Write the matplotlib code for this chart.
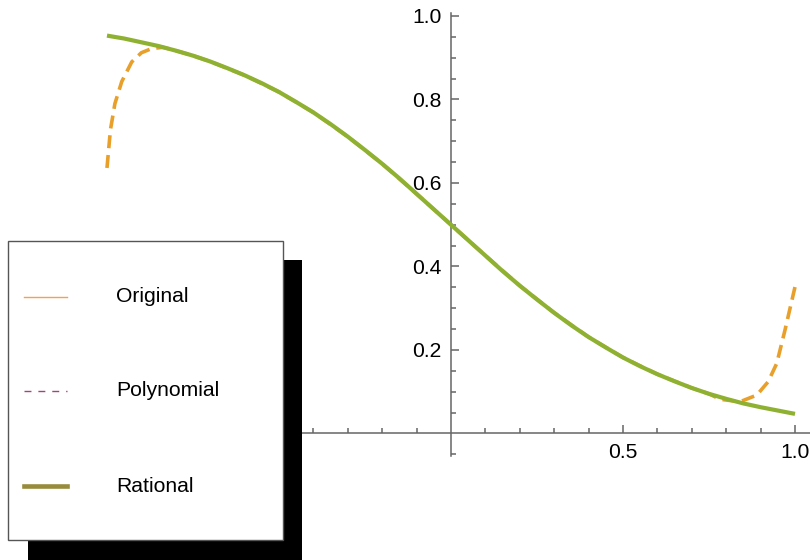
import numpy as np
import matplotlib
matplotlib.use('Agg')
import matplotlib.pyplot as plt
from matplotlib.patches import Rectangle
from matplotlib.lines import Line2D

plt.rcParams['font.family'] = ['Liberation Sans', 'DejaVu Sans']

# rational fit (green)
x_rat = [-1.0, -0.95, -0.9, -0.85, -0.8, -0.75, -0.7, -0.65, -0.6, -0.55, -0.5,
         -0.45, -0.4, -0.35, -0.3, -0.25, -0.2, -0.15, -0.1, -0.05, 0.0,
         0.05, 0.1, 0.15, 0.2, 0.25, 0.3, 0.35, 0.4, 0.45, 0.5,
         0.55, 0.6, 0.65, 0.7, 0.75, 0.8, 0.85, 0.9, 0.95, 1.0]
y_rat = [0.953, 0.946, 0.937, 0.928, 0.917, 0.905, 0.891, 0.875, 0.858, 0.839, 0.818,
         0.794, 0.769, 0.741, 0.711, 0.679, 0.646, 0.611, 0.574, 0.537, 0.500,
         0.463, 0.426, 0.389, 0.354, 0.321, 0.289, 0.259, 0.231, 0.206, 0.182,
         0.161, 0.142, 0.125, 0.109, 0.095, 0.083, 0.072, 0.063, 0.055, 0.047]

# polynomial fit (orange dashed)
x_poly = [-1.0, -0.99, -0.977, -0.957, -0.928, -0.9, -0.87, -0.837, -0.8, -0.75,
          -0.7, -0.6, -0.5, -0.4, -0.3, -0.2, -0.1, 0.0, 0.1, 0.2, 0.3, 0.4, 0.5,
          0.6, 0.7, 0.75, 0.782, 0.84, 0.889, 0.922, 0.947, 0.971, 1.0]
y_poly = [0.636, 0.727, 0.790, 0.843, 0.890, 0.912, 0.922, 0.925, 0.917, 0.905,
          0.891, 0.858, 0.818, 0.769, 0.711, 0.646, 0.574, 0.500, 0.426, 0.354,
          0.289, 0.231, 0.182, 0.142, 0.109, 0.095, 0.082, 0.076, 0.092, 0.124,
          0.168, 0.248, 0.351]

legend_labels = ['Original', 'Polynomial', 'Rational']

fig = plt.figure(figsize=(8.1, 5.6), dpi=100)
ax = fig.add_axes([0, 0, 1, 1])
ax.set_xlim(-1.311, 1.0436)
ax.set_ylim(-0.303, 1.0383)

ax.plot(x_poly, y_poly, color='#E8A02A', lw=2.6, dashes=(3.6, 1.9), zorder=2)
ax.plot(x_rat, y_rat, color='#8FB132', lw=3.0, zorder=3, solid_capstyle='butt')

# axes through the origin, Mathematica style
for s in ['top', 'right']:
    ax.spines[s].set_visible(False)
ax.spines['left'].set_position(('data', 0))
ax.spines['bottom'].set_position(('data', 0))
ax.spines['left'].set_bounds(-0.055, 1.007)
ax.spines['bottom'].set_bounds(-1.0, 1.05)
for s in ['left', 'bottom']:
    ax.spines[s].set_color('#666666')
    ax.spines[s].set_linewidth(1.1)

ax.set_xticks([-1.0, -0.5, 0.5, 1.0])
ax.set_xticklabels(['-1.0', '-0.5', '0.5', '1.0'])
ax.set_xticks([v / 10 for v in range(-9, 11) if v % 5 != 0], minor=True)
ax.set_yticks([0.2, 0.4, 0.6, 0.8, 1.0])
ax.set_yticklabels(['0.2', '0.4', '0.6', '0.8', '1.0'])
ax.set_yticks([v / 20 for v in range(-1, 21) if v % 4 != 0], minor=True)
ax.tick_params(which='both', direction='in', color='#666666', labelsize=15.2, width=1.1)
ax.tick_params(which='major', length=6)
ax.tick_params(which='minor', length=3.8)
ax.tick_params(axis='x', pad=7)
ax.tick_params(axis='y', pad=7)

# legend with hard black shadow
W, H = 810, 560
def fr(px, py, w, h):
    return (px / W, 1 - (py + h) / H)

fig.add_artist(Rectangle(fr(28, 260, 274, 300), 274 / W, 300 / H,
                         transform=fig.transFigure, facecolor='black',
                         edgecolor='none', zorder=10))
fig.add_artist(Rectangle(fr(8, 241, 275, 299), 275 / W, 299 / H,
                         transform=fig.transFigure, facecolor='white',
                         edgecolor='#555555', lw=1.0, zorder=11))

styles = [dict(color='#F5A050', lw=1.0),
          dict(color='#A0457A', lw=1.0, dashes=(5, 5)),
          dict(color='#978C3B', lw=3.3)]
rows = [297, 391, 486]
for lab, st, py in zip(legend_labels, styles, rows):
    yy = 1 - py / H
    fig.add_artist(Line2D([24 / W, 67 / W], [yy, yy], transform=fig.transFigure,
                          zorder=12, **st))
    fig.text(116 / W, yy, lab, fontsize=15.2, va='center', ha='left', zorder=12)

fig.savefig('out.png', dpi=100)
